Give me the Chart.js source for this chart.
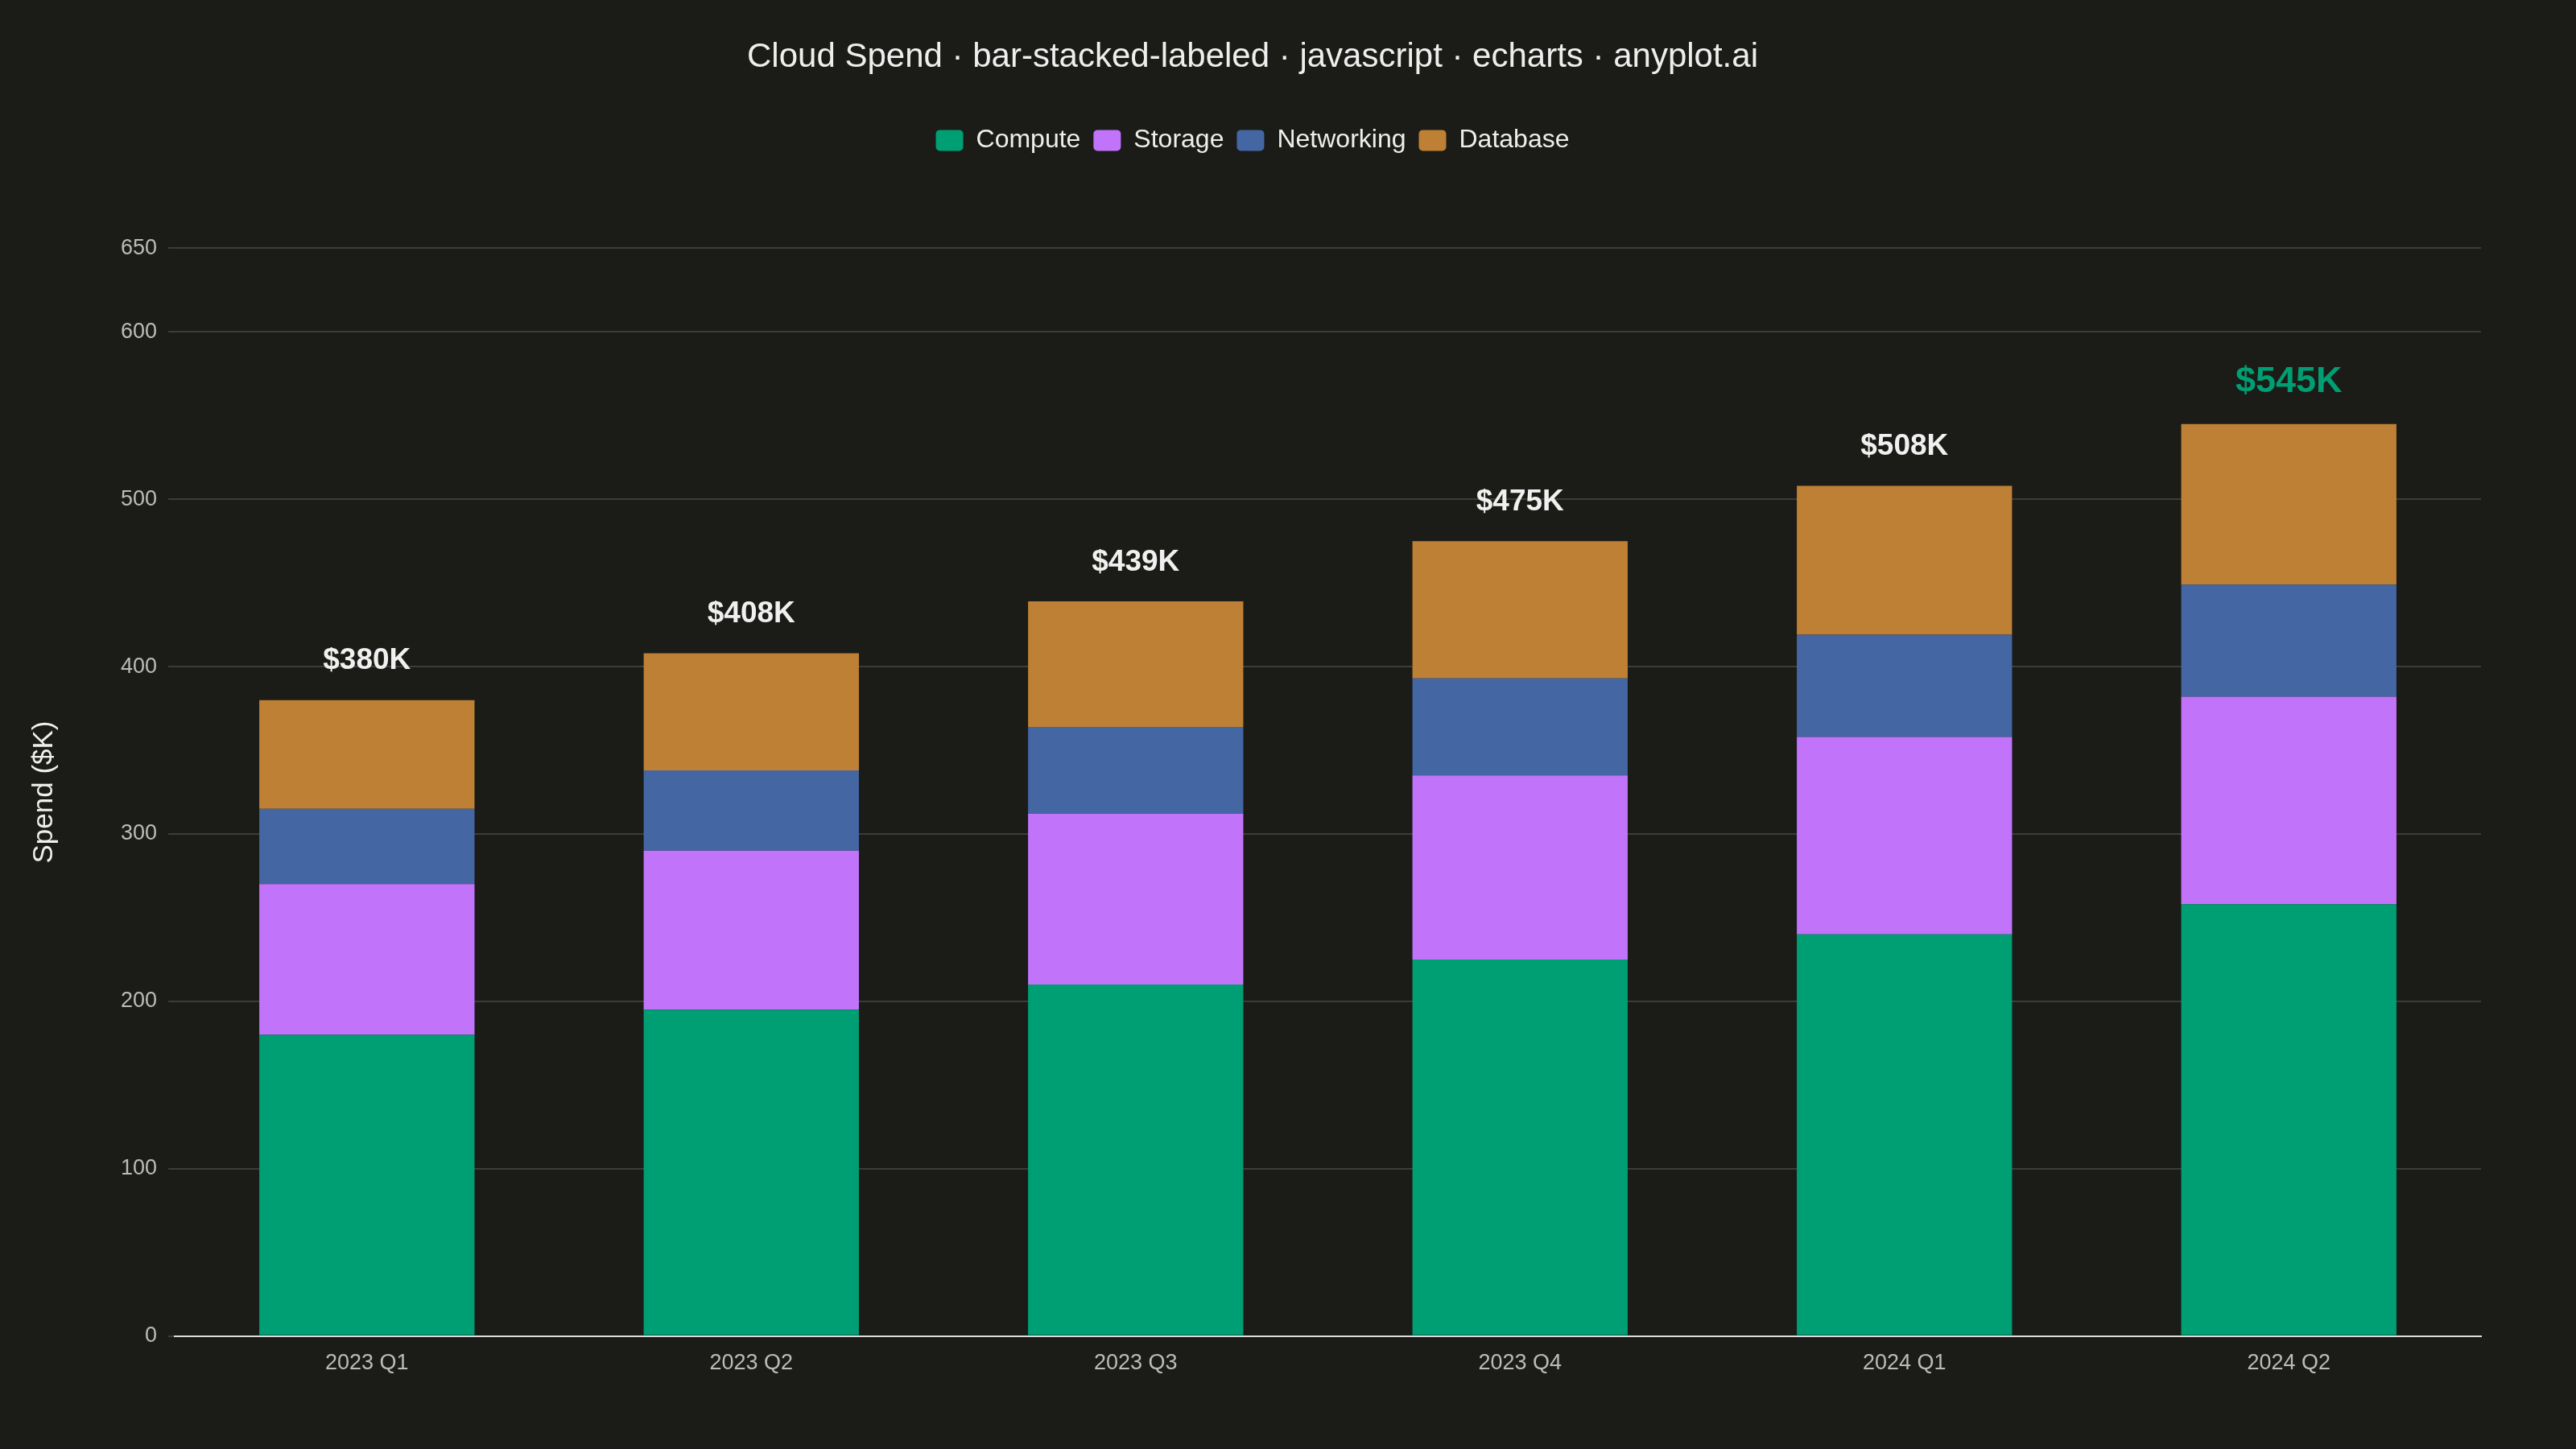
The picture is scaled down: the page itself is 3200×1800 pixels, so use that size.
<!DOCTYPE html>
<html><head><meta charset="utf-8">
<script src="https://cdn.jsdelivr.net/npm/chart.js@4"></script>
<style>html,body{margin:0;background:#1b1b17;}#w{width:3200px;height:1800px;}</style>
</head><body><div id="w"><canvas id="c"></canvas></div>
<script>
const categories = ["2023 Q1","2023 Q2","2023 Q3","2023 Q4","2024 Q1","2024 Q2"];
const compute = [180,195,210,225,240,258];
const storage = [90,95,102,110,118,124];
const networking = [45,48,52,58,61,67];
const database = [65,70,75,82,89,96];
const yTicks = [0,100,200,300,400,500,600,650];

const totalsPlugin = {
  id:'totals',
  afterDatasetsDraw(chart){
    const ctx = chart.ctx, x = chart.scales.x, y = chart.scales.y;
    categories.forEach((c,i)=>{
      const t = compute[i]+storage[i]+networking[i]+database[i];
      const last = i===categories.length-1;
      ctx.save();
      ctx.font = `bold ${last?45:37}px "Liberation Sans", Arial, sans-serif`;
      ctx.fillStyle = last ? '#009E73' : '#f0f0f0';
      ctx.textAlign='center'; ctx.textBaseline='bottom';
      ctx.fillText('$'+t+'K', x.getPixelForValue(i), y.getPixelForValue(t)-30);
      ctx.restore();
    });
  }
};
const legendSpace = {
  id:'legendSpace',
  beforeInit(chart){
    const orig = chart.legend.fit;
    chart.legend.fit = function(){ orig.call(this); this.height += 108; };
  }
};
const mk=(l,d,c)=>({label:l,data:d,backgroundColor:c,barPercentage:0.56,categoryPercentage:1,borderWidth:0});
new Chart(document.getElementById('c'),{
  type:'bar',
  data:{labels:categories,datasets:[
    mk('Compute',compute,'#009E73'),mk('Storage',storage,'#C174FA'),
    mk('Networking',networking,'#4467A3'),mk('Database',database,'#BD8034')]},
  options:{
    responsive:true,maintainAspectRatio:false,animation:false,
    layout:{padding:{left:30,right:118,top:10,bottom:80}},
    plugins:{
      title:{display:true,text:'Cloud Spend · bar-stacked-labeled · javascript · echarts · anyplot.ai',color:'#eeeeee',
        font:{size:42,family:'"Liberation Sans", Arial, sans-serif',weight:'normal'},padding:{top:36,bottom:46}},
      legend:{labels:{color:'#eeeeee',font:{size:32,family:'"Liberation Sans", Arial, sans-serif'},boxWidth:34,boxHeight:26,padding:16,useBorderRadius:true,borderRadius:5}},
      tooltip:{enabled:false}
    },
    scales:{
      x:{stacked:true,grid:{display:false},border:{color:'#dddddd',width:2},
        ticks:{color:'#bbbbbb',font:{size:27,family:'"Liberation Sans", Arial, sans-serif'},padding:10}},
      y:{stacked:true,min:0,max:650,
        afterBuildTicks(s){s.ticks=yTicks.map(v=>({value:v}));},
        grid:{color:'#3c3c38',lineWidth:2},border:{display:false},
        ticks:{color:'#bbbbbb',font:{size:27,family:'"Liberation Sans", Arial, sans-serif'},padding:14},
        title:{display:true,text:'Spend ($K)',color:'#eeeeee',font:{size:35,family:'"Liberation Sans", Arial, sans-serif'},padding:{bottom:60}}}
    }
  },
  plugins:[legendSpace,totalsPlugin,{id:'bg',beforeDraw(c){c.ctx.save();c.ctx.fillStyle='#1b1b17';c.ctx.fillRect(0,0,c.width,c.height);c.ctx.restore();}}]
});
</script></body></html>
